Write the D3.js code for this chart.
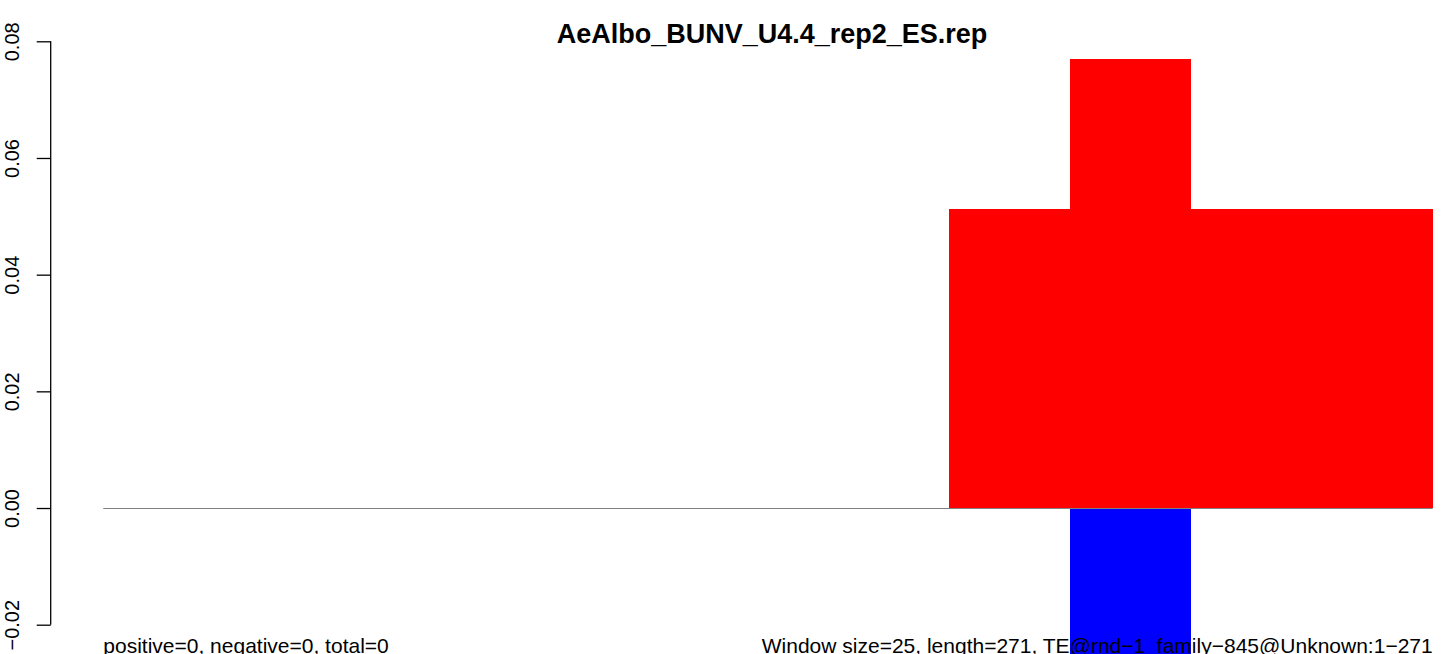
<!DOCTYPE html>
<html>
<head>
<meta charset="utf-8">
<script src="https://cdn.jsdelivr.net/npm/d3@7"></script>
<style>
  html, body { margin: 0; padding: 0; background: #fff; }
  svg { display: block; }
  text { font-family: "Liberation Sans", Arial, Helvetica, sans-serif; }
</style>
</head>
<body>
<svg id="chart" width="1441" height="654"></svg>
<script>
// ---- data ----
const titleText = "AeAlbo_BUNV_U4.4_rep2_ES.rep";
const windowIndex = [0, 1, 2, 3, 4, 5, 6, 7, 8, 9, 10];
const positiveValues = [0, 0, 0, 0, 0, 0, 0, 0.0513, 0.0769, 0.0513, 0.0513];
const negativeValues = [0, 0, 0, 0, 0, 0, 0, 0, -0.0256, 0, 0];
const yTicks = [-0.02, 0.00, 0.02, 0.04, 0.06, 0.08];
const leftNote = "positive=0, negative=0, total=0";
const rightNote = "Window size=25, length=271, TE@rnd\u22121_family\u2212845@Unknown:1\u2212271";

// ---- layout ----
const svg = d3.select("#chart");
const plotLeft = 50.7;
const x = d3.scaleLinear().domain([0, windowIndex.length]).range([103.3, 1432.7]);
const y = d3.scaleLinear().domain([-0.02, 0.08]).range([624.7, 41.3]);

// positive bars
svg.append("g").selectAll("rect")
  .data(windowIndex.filter(i => positiveValues[i] > 0))
  .join("rect")
  .attr("x", i => x(i))
  .attr("width", i => x(i + 1) - x(i))
  .attr("y", i => y(positiveValues[i]))
  .attr("height", i => y(0) - y(positiveValues[i]))
  .attr("fill", "#ff0000")
  .attr("shape-rendering", "crispEdges");

// negative bars
svg.append("g").selectAll("rect")
  .data(windowIndex.filter(i => negativeValues[i] < 0))
  .join("rect")
  .attr("x", i => x(i))
  .attr("width", i => x(i + 1) - x(i))
  .attr("y", y(0))
  .attr("height", i => y(negativeValues[i]) - y(0))
  .attr("fill", "#0000ff")
  .attr("shape-rendering", "crispEdges");

// zero line
svg.append("line")
  .attr("x1", x(0)).attr("x2", x(windowIndex.length))
  .attr("y1", Math.round(y(0)) + 0.5).attr("y2", Math.round(y(0)) + 0.5)
  .attr("stroke", "#808080").attr("stroke-width", 1);

// y axis
const yAxis = d3.axisLeft(y)
  .tickValues(yTicks)
  .tickSize(14)
  .tickPadding(18)
  .tickFormat(d => d3.format(".2f")(d).replace("-", "\u2212"));
const ag = svg.append("g")
  .attr("transform", `translate(${plotLeft},0)`)
  .call(yAxis);
ag.select(".domain")
  .attr("d", `M0,${y(-0.02)}V${y(0.08)}`)
  .attr("stroke", "#000").attr("stroke-width", 1.3);
ag.selectAll(".tick line").attr("stroke", "#000").attr("stroke-width", 1.3);
ag.selectAll(".tick text")
  .attr("font-family", "Liberation Sans, Arial, Helvetica, sans-serif")
  .attr("font-size", 20)
  .attr("fill", "#000")
  .attr("x", null).attr("dy", null)
  .attr("text-anchor", "middle")
  .attr("transform", `translate(${18.5 - plotLeft},0) rotate(-90)`)
  .attr("y", 0);

// title
svg.append("text")
  .attr("x", 772).attr("y", 42.5)
  .attr("text-anchor", "middle")
  .attr("font-weight", "bold")
  .attr("font-size", 27)
  .attr("fill", "#000")
  .text(titleText);

// bottom notes
svg.append("text")
  .attr("x", x(0)).attr("y", 653)
  .attr("font-size", 21)
  .attr("fill", "#000")
  .text(leftNote);
svg.append("text")
  .attr("x", x(windowIndex.length)).attr("y", 653)
  .attr("text-anchor", "end")
  .attr("font-size", 21)
  .attr("fill", "#000")
  .text(rightNote);
</script>
</body>
</html>
